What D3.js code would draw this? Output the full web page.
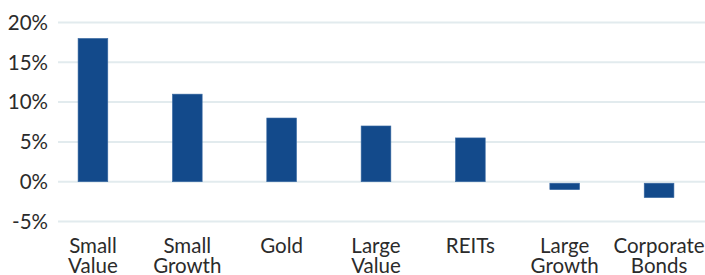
<!DOCTYPE html>
<html>
<head>
<meta charset="utf-8">
<script src="https://cdn.jsdelivr.net/npm/d3@7"></script>
<style>
  body { margin: 0; background: #fff; }
  text { font-family: Lato, "Open Sans", sans-serif; fill: #2b2b2b; }
</style>
</head>
<body>
<svg id="chart" width="705" height="275"></svg>
<script>
// categories and values (percent)
const categories = [
  ["Small", "Value"],
  ["Small", "Growth"],
  ["Gold"],
  ["Large", "Value"],
  ["REITs"],
  ["Large", "Growth"],
  ["Corporate", "Bonds"]
];
const values = [18, 11, 8, 7, 5.5, -1, -2];
const yTicks = [20, 15, 10, 5, 0, -5];

const svg = d3.select("#chart");
const gridLeft = 58, gridRight = 705;

const x = d3.scaleBand()
  .domain(d3.range(categories.length))
  .range([46, 706])
  .paddingInner(0.685)
  .paddingOuter(0.34);

const y = d3.scaleLinear()
  .domain([-5, 20])
  .range([221.5, 22.5]);

// gridlines
svg.append("g")
  .selectAll("line")
  .data(yTicks)
  .enter()
  .append("line")
  .attr("x1", gridLeft)
  .attr("x2", gridRight)
  .attr("y1", (d) => y(d))
  .attr("y2", (d) => y(d))
  .attr("stroke", "#e2ebee")
  .attr("stroke-width", 2);

// y tick labels
svg.append("g")
  .selectAll("text")
  .data(yTicks)
  .enter()
  .append("text")
  .attr("x", 48)
  .attr("y", (d) => y(d))
  .attr("dy", "0.36em")
  .attr("text-anchor", "end")
  .attr("font-size", "20.5px")
  .text((d) => d + "%");

// bars
svg.append("g")
  .selectAll("rect")
  .data(values)
  .enter()
  .append("rect")
  .attr("x", (d, i) => x(i))
  .attr("width", x.bandwidth())
  .attr("y", (d) => (d >= 0 ? y(d) : y(0) + 1.5))
  .attr("height", (d) => Math.abs(y(d) - y(0)) - (d >= 0 ? 0 : 1.5))
  .attr("fill", "#134a8b")
  .attr("stroke", "#3a6aa3")
  .attr("stroke-width", 0.6);

// category labels
const labels = svg.append("g")
  .selectAll("text")
  .data(categories)
  .enter()
  .append("text")
  .attr("text-anchor", "middle")
  .attr("font-size", "20.5px");

labels.selectAll("tspan")
  .data((d, i) => d.map((line) => ({ line, i })))
  .enter()
  .append("tspan")
  .attr("x", (d) => x(d.i) + x.bandwidth() / 2)
  .attr("y", (d, j) => 253 + j * 20)
  .text((d) => d.line);
</script>
</body>
</html>
